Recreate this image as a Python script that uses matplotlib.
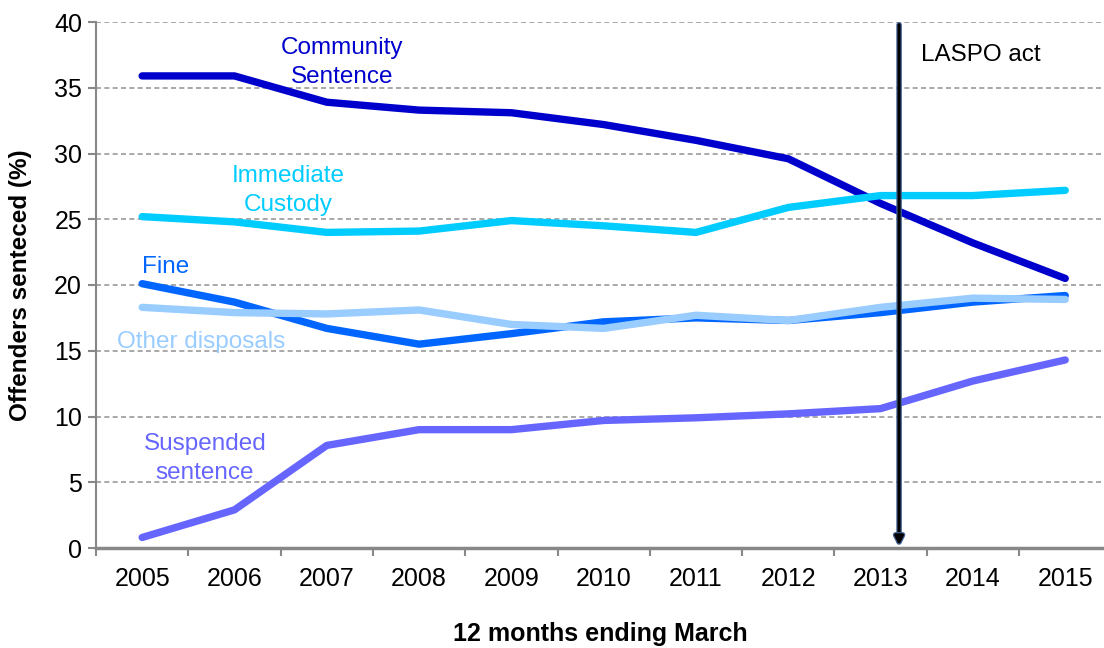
import matplotlib.pyplot as plt
import matplotlib.patheffects as pe

plt.rcParams['font.family'] = ['Liberation Sans', 'DejaVu Sans']

years = ['2005', '2006', '2007', '2008', '2009', '2010', '2011', '2012', '2013', '2014', '2015']

community = [35.9, 35.9, 33.9, 33.3, 33.1, 32.2, 31.0, 29.6, 26.2, 23.2, 20.5]
custody = [25.2, 24.8, 24.0, 24.1, 24.9, 24.5, 24.0, 25.9, 26.8, 26.8, 27.2]
fine = [20.1, 18.7, 16.7, 15.5, 16.3, 17.2, 17.5, 17.3, 17.9, 18.7, 19.2]
other = [18.3, 17.9, 17.8, 18.1, 17.0, 16.7, 17.7, 17.3, 18.3, 19.0, 18.9]
suspended = [0.8, 2.9, 7.8, 9.0, 9.0, 9.7, 9.9, 10.2, 10.6, 12.7, 14.3]

laspo_pos = 8.2  # LASPO act came in early in the year ending March 2014

fig = plt.figure(figsize=(11.04, 6.48), dpi=100)
ax = fig.add_axes([96 / 1104, 100 / 648, 1 - 96 / 1104, 526 / 648])

x = list(range(len(years)))
series = [
    (community, '#0000CC'),
    (custody, '#00CCFF'),
    (fine, '#0066FF'),
    (other, '#99CCFF'),
    (suspended, '#6666FF'),
]
for vals, col in series:
    ax.plot(x, vals, color=col, lw=5.3, solid_capstyle='round', solid_joinstyle='round', zorder=3)

# series labels
tkw = dict(fontsize=17.5, linespacing=1.4)
ax.text(2.17, 36.9, 'Community\nSentence', color='#0000CC', ha='center', va='center', **tkw)
ax.text(1.58, 27.2, 'Immediate\nCustody', color='#00CCFF', ha='center', va='center', **tkw)
ax.text(0.0, 21.4, 'Fine', color='#0066FF', ha='left', va='center', **tkw)
ax.text(-0.27, 15.7, 'Other disposals', color='#99CCFF', ha='left', va='center', **tkw)
ax.text(0.68, 6.8, 'Suspended\nsentence', color='#6666FF', ha='center', va='center', **tkw)

# LASPO marker
ax.annotate('', xy=(laspo_pos, 0), xytext=(laspo_pos, 40),
            arrowprops=dict(arrowstyle='-|>,head_width=0.25,head_length=0.5',
                            color='black', lw=2.2,
                            path_effects=[pe.Stroke(linewidth=4, foreground='#41618f'), pe.Normal()]),
            zorder=5)
ax.text(laspo_pos + 0.24, 37.5, 'LASPO act', fontsize=17.5, color='black', ha='left', va='center')

ax.set_ylim(0, 40)
ax.set_yticks(range(0, 41, 5))
ax.set_xlim(-0.5, 10.42)
ax.set_xticks([i + 0.5 for i in range(-1, 10)])
ax.set_xticklabels([])
ax.set_xticks(x, minor=True)
ax.set_xticklabels(years, minor=True)
ax.tick_params(axis='x', which='minor', length=0, labelsize=18, pad=14)
ax.tick_params(axis='x', which='major', length=6, width=1.5, color='#888888')
ax.tick_params(axis='y', length=6, width=1.5, color='#888888', labelsize=18, pad=4)

ax.grid(axis='y', linestyle=(0, (3, 2)), color='#999999', lw=1.2, zorder=0)
for s in ['top', 'right']:
    ax.spines[s].set_visible(False)
ax.spines['left'].set_color('#888888')
ax.spines['left'].set_linewidth(1.5)
ax.spines['bottom'].set_color('#888888')
ax.spines['bottom'].set_linewidth(2.5)

ax.set_xlabel('12 months ending March', fontsize=18, fontweight='bold', labelpad=22)
ax.set_ylabel('Offenders senteced (%)', fontsize=17.5, fontweight='bold')
ax.yaxis.set_label_coords(-0.063, 0.5)

fig.savefig('out.png', dpi=100)
